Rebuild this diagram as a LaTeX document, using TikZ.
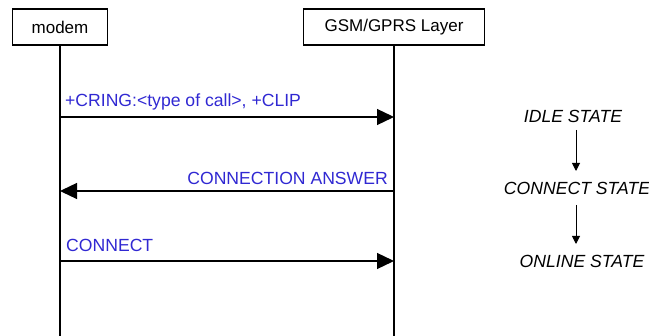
\documentclass[tikz,border=0pt]{standalone}
\usepackage{fontspec}
\setmainfont{Liberation Sans}
\usetikzlibrary{arrows.meta}
\definecolor{msgblue}{RGB}{48,40,210}
\begin{document}
\begin{tikzpicture}[x=1pt,y=-1pt,
  actor/.style={draw,line width=1.8pt,minimum height=36pt,inner sep=0pt,font=\fontsize{17}{20}\selectfont},
  life/.style={line width=1.8pt},
  msg/.style={line width=1.3pt,-{Triangle[length=17pt,width=16pt]}},
  lbl/.style={text=msgblue,font=\fontsize{17.6}{20}\selectfont,inner sep=0pt},
  st/.style={font=\itshape\fontsize{17.6}{20}\selectfont,inner sep=0pt},
  starr/.style={line width=1pt,-{Triangle[length=8pt,width=8pt]}}]
\useasboundingbox (0,0) rectangle (649,336);
\node[actor,minimum width=95pt] (modem) at (60,27) {modem};
\node[actor,minimum width=181pt] (gsm) at (394,27) {GSM/GPRS Layer};
\coordinate (mb) at (60,336);
\coordinate (gb) at (394,336);
\draw[life] (modem.south) -- (mb);
\draw[life] (gsm.south) -- (gb);
% messages
\coordinate (m1) at (60,117); \coordinate (g1) at (394,117);
\coordinate (m2) at (60,191); \coordinate (g2) at (394,191);
\coordinate (m3) at (60,261); \coordinate (g3) at (394,261);
\draw[msg] (m1) -- (g1);
\draw[msg] (g2) -- (m2);
\draw[msg] (m3) -- (g3);
\node[lbl,anchor=west] (l1) at (65,102) {+CRING:<type of call>, +CLIP};
\node[lbl,anchor=east] (l2) at (388,178) {CONNECTION ANSWER};
\node[lbl,anchor=west] (l3) at (66,245) {CONNECT};
% states
\node[st] (idle) at (573,116) {IDLE STATE};
\node[st] (conn) at (577,188) {CONNECT STATE};
\node[st] (onl) at (582,261) {ONLINE STATE};
\draw[starr] (576,130) -- (576,171);
\draw[starr] (576,205) -- (576,244);
\end{tikzpicture}
\end{document}
